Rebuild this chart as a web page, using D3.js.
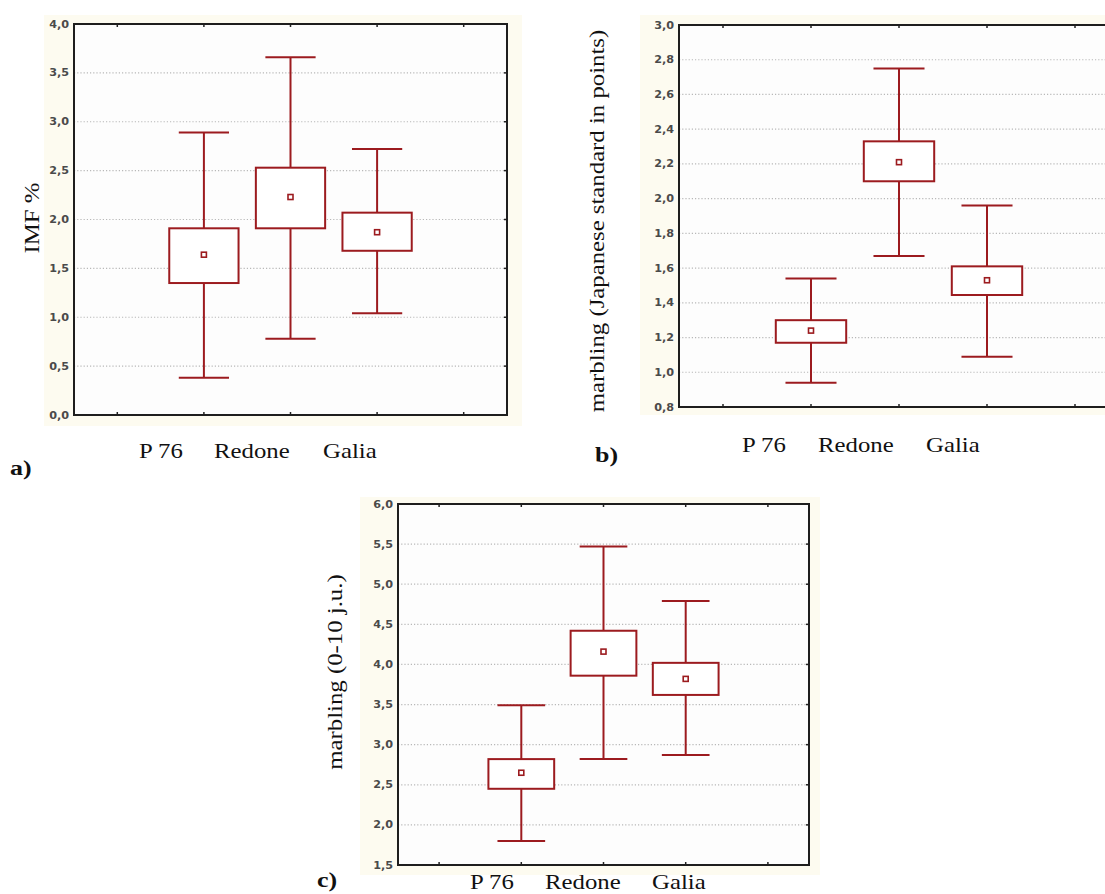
<!DOCTYPE html>
<html>
<head>
<meta charset="utf-8">
<script src="https://d3js.org/d3.v7.min.js"></script>
<style>
  body { margin: 0; background: #fff; }
  svg { display: block; }
</style>
</head>
<body>
<div id="chart"></div>
<script>

// categories (5 slots on the x axis, only the middle three are used)
var groups = ["P 76", "Redone", "Galia"];
var groupSlot = [1, 2, 3];

// a) IMF %
var imfWhiskHigh = [2.89, 3.66, 2.72];
var imfBoxHigh   = [1.91, 2.53, 2.07];
var imfMean      = [1.64, 2.23, 1.87];
var imfBoxLow    = [1.35, 1.91, 1.68];
var imfWhiskLow  = [0.38, 0.78, 1.04];
var imfTicks = [0, 0.5, 1, 1.5, 2, 2.5, 3, 3.5, 4];

// b) marbling, Japanese standard
var jpWhiskHigh = [1.54, 2.75, 1.96];
var jpBoxHigh   = [1.30, 2.33, 1.61];
var jpMean      = [1.24, 2.21, 1.53];
var jpBoxLow    = [1.17, 2.10, 1.445];
var jpWhiskLow  = [0.94, 1.67, 1.09];
var jpTicks = [0.8, 1.0, 1.2, 1.4, 1.6, 1.8, 2.0, 2.2, 2.4, 2.6, 2.8, 3.0];

// c) marbling 0-10
var juWhiskHigh = [3.49, 5.47, 4.79];
var juBoxHigh   = [2.82, 4.42, 4.02];
var juMean      = [2.65, 4.16, 3.82];
var juBoxLow    = [2.45, 3.86, 3.62];
var juWhiskLow  = [1.80, 2.82, 2.87];
var juTicks = [1.5, 2, 2.5, 3, 3.5, 4, 4.5, 5, 5.5, 6];

var red = "#9c1b1f";
var serif = "Liberation Serif, Times New Roman, serif";
var stretch = 1.18;   // the scanned figure is a bit wider than tall
var fmt = function(v) { return d3.format(".1f")(v).replace(".", ","); };

var svg = d3.select("#chart").append("svg")
    .attr("width", 1105)
    .attr("height", 894);

function drawPanel(p) {
  var g = svg.append("g");

  // scanned-paper tint behind the plot
  g.append("rect")
    .attr("x", p.cream[0]).attr("y", p.cream[1])
    .attr("width", p.cream[2]).attr("height", p.cream[3])
    .style("fill", "#fdfbf0");

  var x = d3.scaleBand().domain([0, 1, 2, 3, 4]).range([p.left, p.right]);
  var y = d3.scaleLinear().domain([p.ticks[0], p.ticks[p.ticks.length - 1]]).range([p.bottom, p.top]);

  g.append("rect")
    .attr("x", p.left).attr("y", p.top)
    .attr("width", p.right - p.left).attr("height", p.bottom - p.top)
    .style("fill", "#fdfdfd");

  // dotted grid
  g.append("g").selectAll("line")
    .data(p.ticks.slice(1, -1))
    .enter().append("line")
      .attr("x1", p.left).attr("x2", p.right)
      .attr("y1", function(d) { return y(d); })
      .attr("y2", function(d) { return y(d); })
      .style("stroke", "#b8b8b8")
      .style("stroke-width", 1.2)
      .style("stroke-dasharray", "1.2,2");

  // y tick labels
  g.append("g").selectAll("text")
    .data(p.ticks)
    .enter().append("text")
      .attr("transform", function(d) { return "translate(" + (p.left - 5) + "," + y(d) + ") scale(1.12,1)"; })
      .attr("dy", "0.35em")
      .style("text-anchor", "end")
      .style("font-family", "DejaVu Sans, sans-serif")
      .style("font-size", "10px")
      .style("font-weight", "bold")
      .style("fill", "#4a4a4a")
      .text(fmt);

  // ticks on right frame
  g.append("g").selectAll("line")
    .data(p.ticks.slice(1, -1))
    .enter().append("line")
      .attr("x1", p.right - 3).attr("x2", p.right)
      .attr("y1", function(d) { return y(d); })
      .attr("y2", function(d) { return y(d); })
      .style("stroke", "#222").style("stroke-width", 1.5);

  // ticks on top and bottom frame
  [[p.top, 3], [p.bottom, -3]].forEach(function(t) {
    g.append("g").selectAll("line")
      .data(x.domain())
      .enter().append("line")
        .attr("x1", function(d) { return x(d) + x.bandwidth() / 2; })
        .attr("x2", function(d) { return x(d) + x.bandwidth() / 2; })
        .attr("y1", t[0]).attr("y2", t[0] + t[1])
        .style("stroke", "#222").style("stroke-width", 1.5);
  });

  // frame
  g.append("rect")
    .attr("x", p.left).attr("y", p.top)
    .attr("width", p.right - p.left).attr("height", p.bottom - p.top)
    .style("fill", "none").style("stroke", "#1e1e1e").style("stroke-width", 2);

  // boxes and whiskers
  var bw = x.bandwidth();
  var rows = groups.map(function(name, i) {
    return { name: name, cx: x(groupSlot[i]) + bw / 2,
             wh: p.whiskHigh[i], bh: p.boxHigh[i], m: p.mean[i], bl: p.boxLow[i], wl: p.whiskLow[i] };
  });
  var box = g.append("g").selectAll("g").data(rows).enter().append("g")
    .style("stroke", red).style("stroke-width", 2).style("fill", "none");

  box.append("line")
    .attr("x1", function(d) { return d.cx; }).attr("x2", function(d) { return d.cx; })
    .attr("y1", function(d) { return y(d.wh); }).attr("y2", function(d) { return y(d.bh); });
  box.append("line")
    .attr("x1", function(d) { return d.cx; }).attr("x2", function(d) { return d.cx; })
    .attr("y1", function(d) { return y(d.bl); }).attr("y2", function(d) { return y(d.wl); });
  box.append("line")
    .attr("x1", function(d) { return d.cx - bw * 0.29; }).attr("x2", function(d) { return d.cx + bw * 0.29; })
    .attr("y1", function(d) { return y(d.wh); }).attr("y2", function(d) { return y(d.wh); });
  box.append("line")
    .attr("x1", function(d) { return d.cx - bw * 0.29; }).attr("x2", function(d) { return d.cx + bw * 0.29; })
    .attr("y1", function(d) { return y(d.wl); }).attr("y2", function(d) { return y(d.wl); });
  box.append("rect")
    .attr("x", function(d) { return d.cx - bw * 0.4; })
    .attr("width", bw * 0.8)
    .attr("y", function(d) { return y(d.bh); })
    .attr("height", function(d) { return y(d.bl) - y(d.bh); })
    .style("fill", "#fff");
  box.append("rect")
    .attr("x", function(d) { return d.cx - 2.5; })
    .attr("y", function(d) { return y(d.m) - 2.5; })
    .attr("width", 5).attr("height", 5)
    .style("stroke-width", 1.6)
    .style("fill", "#fff");

  // category labels
  g.append("g").selectAll("text")
    .data(groups)
    .enter().append("text")
      .attr("transform", function(d, i) { return "translate(" + p.labelX[i] + "," + p.labelY + ") scale(" + stretch + ",1)"; })
      .style("font-family", serif)
      .style("font-size", "21px")
      .style("fill", "#111")
      .text(function(d) { return d; });

  // y title
  g.append("text")
    .attr("transform", "translate(" + p.titleX + "," + p.titleY + ") rotate(-90) scale(" + stretch + ",1)")
    .style("text-anchor", "middle")
    .style("font-family", serif)
    .style("font-size", "21px")
    .style("fill", "#111")
    .text(p.title);

  // panel letter
  g.append("text")
    .attr("transform", "translate(" + p.letter[0] + "," + p.letter[1] + ") scale(" + stretch + ",1)")
    .style("font-family", serif)
    .style("font-size", "22px")
    .style("font-weight", "bold")
    .style("fill", "#111")
    .text(p.letter[2]);
}

drawPanel({
  left: 74, right: 507, top: 24, bottom: 415,
  cream: [44, 15, 478, 411],
  ticks: imfTicks,
  whiskHigh: imfWhiskHigh, boxHigh: imfBoxHigh, mean: imfMean, boxLow: imfBoxLow, whiskLow: imfWhiskLow,
  labelX: [139, 214, 323], labelY: 458,
  title: "IMF %", titleX: 39, titleY: 218,
  letter: [10, 475, "a)"]
});

drawPanel({
  left: 679, right: 1119, top: 25, bottom: 407,
  cream: [640, 15, 480, 400],
  ticks: jpTicks,
  whiskHigh: jpWhiskHigh, boxHigh: jpBoxHigh, mean: jpMean, boxLow: jpBoxLow, whiskLow: jpWhiskLow,
  labelX: [742, 818, 926], labelY: 452,
  title: "marbling (Japanese standard in points)", titleX: 604, titleY: 221,
  letter: [595, 462, "b)"]
});

drawPanel({
  left: 398, right: 809, top: 504, bottom: 865,
  cream: [360, 497, 460, 378],
  ticks: juTicks,
  whiskHigh: juWhiskHigh, boxHigh: juBoxHigh, mean: juMean, boxLow: juBoxLow, whiskLow: juWhiskLow,
  labelX: [470, 545, 652], labelY: 889,
  title: "marbling (0-10 j.u.)", titleX: 342, titleY: 672,
  letter: [317, 887, "c)"]
});

</script>
</body>
</html>
